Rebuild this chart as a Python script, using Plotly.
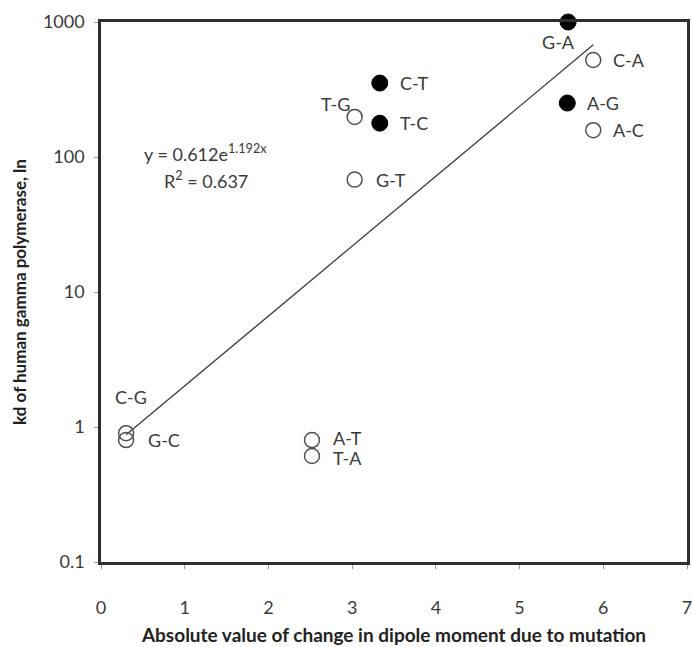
import plotly.graph_objects as go
import numpy as np

# Mutation pairs: |change in dipole moment| vs kd of human gamma polymerase
labels = ["G-A", "C-A", "C-T", "T-G", "T-C", "A-G", "A-C", "G-T", "C-G", "G-C", "A-T", "T-A"]
dipole_change = [5.58, 5.88, 3.33, 3.03, 3.33, 5.57, 5.88, 3.03, 0.30, 0.30, 2.52, 2.52]
kd_values = [1000, 523, 353, 198, 178, 251, 158, 68, 0.90, 0.80, 0.80, 0.61]
filled = [True, False, True, False, True, True, False, False, False, False, False, False]

# Exponential trend: y = a * exp(b * x)
fit_a = 0.612
fit_b = 1.192
fit_r2 = 0.637

# Label placement relative to each marker (pixels, anchor)
label_style = {
    "G-A": dict(xshift=-10, yshift=-20, xanchor="center"),
    "C-A": dict(xshift=18, yshift=0, xanchor="left"),
    "C-T": dict(xshift=18, yshift=0, xanchor="left"),
    "T-G": dict(xshift=-3, yshift=13, xanchor="right"),
    "T-C": dict(xshift=18, yshift=0, xanchor="left"),
    "A-G": dict(xshift=18, yshift=0, xanchor="left"),
    "A-C": dict(xshift=18, yshift=0, xanchor="left"),
    "G-T": dict(xshift=19, yshift=0, xanchor="left"),
    "C-G": dict(xshift=5, yshift=36, xanchor="center"),
    "G-C": dict(xshift=20, yshift=0, xanchor="left"),
    "A-T": dict(xshift=19, yshift=2, xanchor="left"),
    "T-A": dict(xshift=19, yshift=-2, xanchor="left"),
}

FONT = "Lato, Open Sans, sans-serif"
TEXT = "#3a3a3a"

fig = go.Figure()

# Trend line across the observed x range
x_fit = np.linspace(min(dipole_change), max(dipole_change), 200)
y_fit = fit_a * np.exp(fit_b * x_fit)
fig.add_trace(go.Scatter(x=x_fit, y=y_fit, mode="lines",
                         line=dict(color="#3c3c3c", width=1.3),
                         hoverinfo="skip", showlegend=False, cliponaxis=False))

xo = [x for x, f in zip(dipole_change, filled) if not f]
yo = [y for y, f in zip(kd_values, filled) if not f]
xf = [x for x, f in zip(dipole_change, filled) if f]
yf = [y for y, f in zip(kd_values, filled) if f]

fig.add_trace(go.Scatter(x=xo, y=yo, mode="markers",
                         marker=dict(size=15, color="rgba(255,255,255,0)",
                                     line=dict(color="#505050", width=1.5)),
                         showlegend=False, cliponaxis=False))
fig.add_trace(go.Scatter(x=xf, y=yf, mode="markers",
                         marker=dict(size=16, color="#000000",
                                     line=dict(color="#000000", width=1)),
                         showlegend=False, cliponaxis=False))

for lab, x, y in zip(labels, dipole_change, kd_values):
    st = label_style[lab]
    fig.add_annotation(x=x, y=np.log10(y), text=lab, showarrow=False,
                       xanchor=st["xanchor"], yanchor="middle",
                       xshift=st["xshift"], yshift=st["yshift"],
                       font=dict(family=FONT, size=18, color=TEXT))

# Fit equation and R²
fig.add_annotation(xref="paper", yref="paper", x=0.179, y=0.757, xanchor="center",
                   yanchor="middle",
                   text=f"y = {fit_a}e<sup>{fit_b}x</sup>", showarrow=False,
                   font=dict(family=FONT, size=18, color=TEXT))
fig.add_annotation(xref="paper", yref="paper", x=0.179, y=0.707, xanchor="center",
                   yanchor="middle",
                   text=f"R<sup>2</sup> = {fit_r2}", showarrow=False,
                   font=dict(family=FONT, size=18, color=TEXT))

axis_common = dict(showgrid=False, zeroline=False, showline=True, mirror=True,
                   linecolor="#2e2e2e", linewidth=2.5,
                   ticks="outside", ticklen=4, tickcolor="#9a9a9a", tickwidth=1,
                   ticklabeloverflow="allow",
                   tickfont=dict(family=FONT, size=18, color=TEXT))

fig.update_xaxes(range=[0, 7], dtick=1, tick0=0, ticklabelstandoff=24,
                 title=dict(text="<b>Absolute value of change in dipole moment due to mutation</b>",
                            font=dict(family=FONT, size=19, color="#222222"), standoff=12),
                 **axis_common)
fig.update_yaxes(type="log", range=[-1, 3], ticklabelstandoff=6,
                 tickvals=[0.1, 1, 10, 100, 1000], ticktext=["0.1", "1", "10", "100", "1000"],
                 title=dict(text="<b>kd of human gamma polymerase, ln</b>",
                            font=dict(family=FONT, size=17, color="#222222"), standoff=12),
                 **axis_common)

fig.update_layout(width=692, height=647, plot_bgcolor="white", paper_bgcolor="white",
                  margin=dict(l=101, r=5, t=22, b=85, autoexpand=False))

fig.write_html("out.html")
